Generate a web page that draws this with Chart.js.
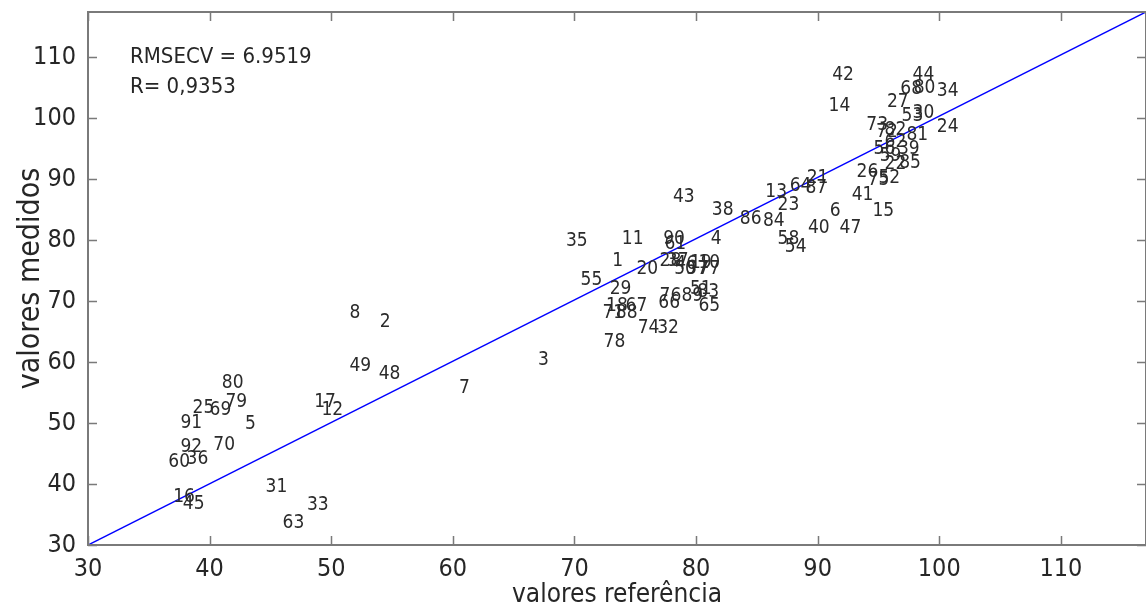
<!DOCTYPE html>
<html>
<head>
<meta charset="utf-8">
<script src="https://cdn.jsdelivr.net/npm/chart.js@4/dist/chart.umd.min.js"></script>
<style>
  html, body { margin: 0; padding: 0; background: #fff; }
  #wrap { width: 1146px; height: 611px; }
</style>
</head>
<body>
<div id="wrap"><canvas id="chart"></canvas></div>
<script>
// sample ids and their values (reference, measured)
const sampleIds = ['42','14','44','68','80','34','27','53','30','24','73','72','82','81','56','62','39','59','22','85','26','75','52','41','15','6','47','40','21','87','64','13','23','86','84','58','54','43','38','4','11','35','90','61','1','20','28','37','46','19','10','50','57','77','55','29','18','71','88','67','76','66','89','51','83','65','74','32','78','3','7','8','2','49','48','17','12','63','33','31','80','79','25','69','91','5','92','70','60','36','16','45'];
const refValues = [91.2,90.9,97.8,96.8,97.9,99.8,95.7,96.9,97.8,99.8,94.0,94.8,95.5,97.3,94.6,95.5,96.6,95.1,95.5,96.7,93.2,94.1,95.0,92.8,94.5,91.0,91.8,89.2,89.1,89.0,87.7,85.7,86.7,83.6,85.5,86.7,87.3,78.1,81.3,81.2,73.9,69.3,77.3,77.4,73.1,75.1,77.0,77.6,78.3,79.5,80.2,78.2,79.2,80.2,70.5,72.9,72.6,72.3,73.4,74.2,77.0,76.9,78.8,79.5,80.1,80.2,75.2,76.8,72.4,67.0,60.5,51.5,54.0,51.5,53.9,48.6,49.2,46.0,48.0,44.6,41.0,41.3,38.6,40.0,37.6,42.9,37.6,40.3,36.6,38.1,37.0,37.8];
const measValues = [107.0,101.9,107.0,104.7,105.0,104.4,102.6,100.4,100.9,98.5,98.8,97.7,98.1,97.2,94.9,96.0,95.0,93.7,92.4,92.6,91.2,89.9,90.1,87.3,84.8,84.8,81.9,81.9,90.1,88.5,88.8,87.8,85.8,83.4,83.2,80.1,78.8,87.0,85.0,80.1,80.1,79.8,80.1,79.4,76.6,75.3,76.5,76.6,76.1,76.3,76.3,75.2,75.2,75.2,73.5,71.9,69.1,68.0,68.0,69.1,70.9,69.6,70.9,72.0,71.4,69.1,65.6,65.5,63.3,60.4,55.8,68.1,66.6,59.4,58.1,53.5,52.2,33.6,36.6,39.5,56.6,53.5,52.5,52.2,50.0,49.9,46.1,46.4,43.6,44.1,37.9,36.7];

// fitted line end points
const lineX = [30, 117];
const lineY = [30, 117.4];

const xTicks = [30, 40, 50, 60, 70, 80, 90, 100, 110];
const yTicks = [30, 40, 50, 60, 70, 80, 90, 100, 110];

const statsText = ['RMSECV = 6.9519', 'R= 0,9353'];

const FONT = '"DejaVu Sans Condensed", "Liberation Sans", Arial, sans-serif';
const TEXT_COLOR = '#262626';
const AXIS_COLOR = '#7a7a7a';

// draws the box, inward tick marks, point labels and stats text
const framePlugin = {
  id: 'frame',
  afterDatasetsDraw(chart) {
    const ctx = chart.ctx;
    const meta = chart.getDatasetMeta(1);
    ctx.save();
    ctx.font = '19px ' + FONT;
    ctx.fillStyle = '#2b2b2b';
    ctx.textAlign = 'left';
    ctx.textBaseline = 'middle';
    meta.data.forEach((pt, i) => {
      ctx.fillText(sampleIds[i], pt.x, pt.y);
    });
    ctx.restore();
  },
  afterDraw(chart) {
    const { ctx, chartArea: a, scales } = chart;
    ctx.save();
    ctx.strokeStyle = AXIS_COLOR;
    ctx.lineWidth = 2;
    ctx.strokeRect(a.left, a.top, a.right - a.left, a.bottom - a.top);
    ctx.lineWidth = 1.5;
    ctx.beginPath();
    xTicks.forEach(v => {
      const px = Math.round(scales.x.getPixelForValue(v)) + 0.5;
      ctx.moveTo(px, a.bottom); ctx.lineTo(px, a.bottom - 9);
      ctx.moveTo(px, a.top); ctx.lineTo(px, a.top + 9);
    });
    yTicks.forEach(v => {
      const py = Math.round(scales.y.getPixelForValue(v)) + 0.5;
      ctx.moveTo(a.left, py); ctx.lineTo(a.left + 9, py);
      ctx.moveTo(a.right, py); ctx.lineTo(a.right - 9, py);
    });
    ctx.stroke();

    ctx.font = '22px ' + FONT;
    ctx.fillStyle = TEXT_COLOR;
    ctx.textAlign = 'left';
    ctx.textBaseline = 'middle';
    ctx.fillText(statsText[0], a.left + 42, 57);
    ctx.fillText(statsText[1], a.left + 42, 87);
    ctx.restore();
  }
};

const ctx = document.getElementById('chart').getContext('2d');
new Chart(ctx, {
  type: 'scatter',
  data: {
    datasets: [{
      type: 'line',
      data: lineX.map((x, i) => ({ x: x, y: lineY[i] })),
      borderColor: '#0000ff',
      borderWidth: 1.5,
      pointRadius: 0,
      fill: false
    }, {
      data: refValues.map((x, i) => ({ x: x, y: measValues[i] })),
      pointRadius: 0,
      backgroundColor: 'transparent',
      borderColor: 'transparent'
    }]
  },
  options: {
    responsive: true,
    maintainAspectRatio: false,
    animation: false,
    layout: { padding: { top: 12, right: 0, left: 0, bottom: 0 } },
    plugins: {
      legend: { display: false },
      tooltip: { enabled: false }
    },
    scales: {
      x: {
        type: 'linear',
        min: 30,
        max: 117,
        grid: { display: false, drawTicks: false },
        border: { display: false },
        afterBuildTicks: s => { s.ticks = xTicks.map(v => ({ value: v })); },
        afterFit: s => { s.height = 66; s.paddingLeft = 0; s.paddingRight = 0; },
        ticks: {
          padding: 9,
          color: TEXT_COLOR,
          font: { family: FONT, size: 25 },
          maxRotation: 0
        },
        title: {
          display: true,
          text: 'valores referência',
          color: TEXT_COLOR,
          font: { family: FONT, size: 26 },
          padding: { top: 0, bottom: 0 }
        }
      },
      y: {
        type: 'linear',
        min: 30,
        max: 117.4,
        grid: { display: false, drawTicks: false },
        border: { display: false },
        afterBuildTicks: s => { s.ticks = yTicks.map(v => ({ value: v })); },
        afterFit: s => { s.width = 88; s.paddingTop = 0; s.paddingBottom = 0; },
        ticks: {
          padding: 12,
          color: TEXT_COLOR,
          font: { family: FONT, size: 25 }
        },
        title: {
          display: true,
          text: 'valores medidos',
          color: TEXT_COLOR,
          font: { family: FONT, size: 30 },
          padding: { top: 13, bottom: 0 }
        }
      }
    }
  },
  plugins: [framePlugin]
});
</script>
</body>
</html>
